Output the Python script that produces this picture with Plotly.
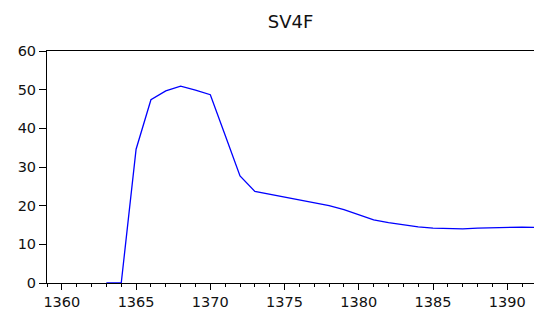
import plotly.graph_objects as go

title_text = "SV4F"
years = list(range(1363, 1393))
values = [0.0, 0.0, 34.6, 47.4, 49.7, 50.9, 49.9, 48.7, 38.2, 27.7,
          23.7, 23.0, 22.2, 21.4, 20.7, 20.0, 19.0, 17.6, 16.3, 15.6,
          15.0, 14.5, 14.2, 14.1, 14.0, 14.2, 14.3, 14.5, 14.45, 14.4]
x_ticks = [1360, 1365, 1370, 1375, 1380, 1385, 1390]
y_ticks = [0, 10, 20, 30, 40, 50, 60]

fig = go.Figure()
fig.add_trace(go.Scatter(x=years, y=values, mode="lines",
                         line=dict(color="#0000ff", width=1.3),
                         showlegend=False, hoverinfo="skip"))

font_fam = "DejaVu Sans, Arial, sans-serif"
tick_size = 14.5
fig.update_layout(
    width=534, height=309,
    margin=dict(l=47, r=0, t=51, b=26, autoexpand=False),
    paper_bgcolor="white", plot_bgcolor="white",
    title=dict(text=title_text, x=(47 + 534) / 2 / 534, xanchor="center",
               y=1 - 22 / 309, yanchor="middle",
               font=dict(family=font_fam, size=18, color="#111111")),
    font=dict(family=font_fam, size=tick_size, color="#111111"),
)
fig.update_xaxes(range=[1359, 1391.8], tickmode="array", tickvals=x_ticks,
                 ticktext=[str(v) for v in x_ticks],
                 ticks="outside", ticklen=6, tickwidth=1, tickcolor="#000",
                 minor=dict(dtick=1, tick0=1359, ticks="outside", ticklen=3,
                            tickwidth=1, tickcolor="#000", showgrid=False),
                 showline=True, linecolor="#000", linewidth=1, mirror=True,
                 showgrid=False, zeroline=False, layer="below traces",
                 automargin=False,
                 tickfont=dict(family=font_fam, size=tick_size, color="#111111"))
fig.update_yaxes(range=[0, 60], tickmode="array", tickvals=y_ticks,
                 ticktext=[str(v) for v in y_ticks],
                 ticks="outside", ticklen=7, tickwidth=1, tickcolor="#000",
                 showline=True, linecolor="#000", linewidth=1, mirror=False,
                 showgrid=False, zeroline=False, layer="below traces",
                 automargin=False,
                 tickfont=dict(family=font_fam, size=tick_size, color="#111111"))

fig.write_html("out.html", config={"displayModeBar": False},
               post_script="document.body.style.margin='0';document.body.style.overflow='hidden';")
